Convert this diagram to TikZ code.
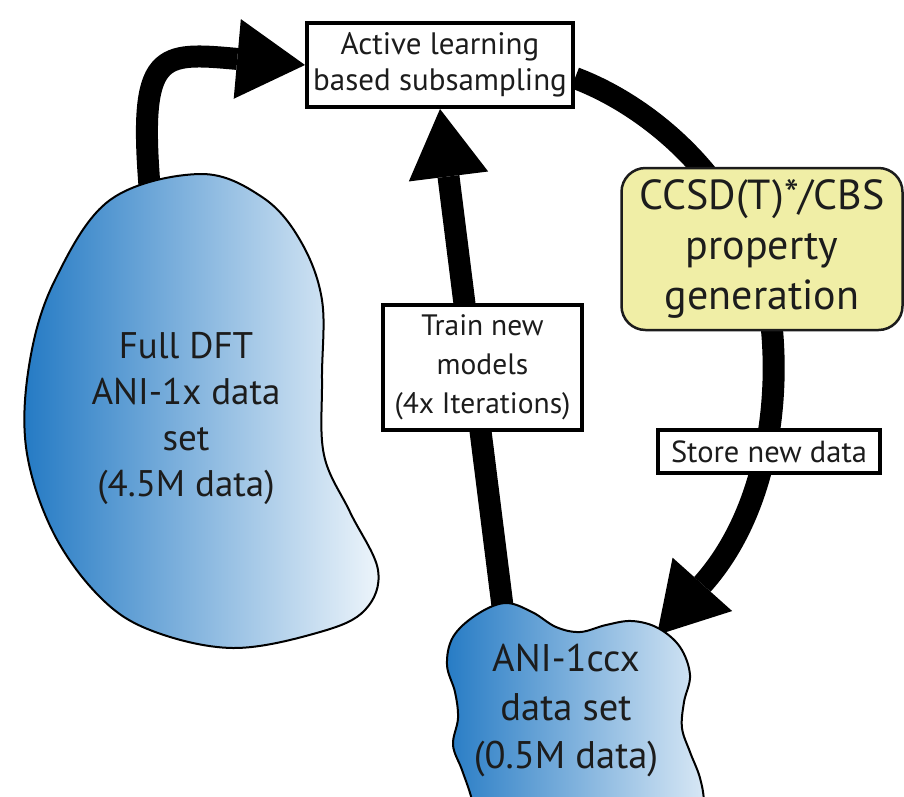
\documentclass[tikz,border=0pt]{standalone}
\usepackage{fontspec}
\setmainfont{PT Sans}
\usetikzlibrary{arrows.meta}
\pgfdeclarelayer{paper}
\pgfdeclarelayer{bg}
\pgfsetlayers{paper,bg,main}
\definecolor{blobL}{RGB}{36,122,196}
\definecolor{blobR}{RGB}{238,245,251}
\definecolor{ink}{RGB}{28,28,28}
\definecolor{ccfill}{RGB}{240,238,166}
\begin{document}
\begin{tikzpicture}[x=1pt,y=-1pt,
  box/.style={draw=black,line width=4pt,fill=white,inner sep=0pt,align=center,text=ink},
  ccbox/.style={draw=ink,line width=2.5pt,fill=ccfill,rounded corners=24pt,inner sep=0pt,align=center,text=ink},
  flow/.style={line width=22pt,line join=round,-{Triangle[length=68pt,width=80pt,line width=0pt]}},
  blob/.style={draw=black,line width=2pt,left color=blobL,right color=blobR},
  bloblabel/.style={align=center,text=ink,inner sep=0pt}]
\useasboundingbox (0,0) rectangle (904,796);
\begin{pgfonlayer}{paper}
\fill[white] (0,0) rectangle (904,796);
\end{pgfonlayer}

% data sets
\draw[blob] plot[smooth cycle,tension=0.6] coordinates {
  (200,174) (262,197) (300,240) (322,300) (322,380) (324,455) (350,512)
  (378,570) (365,610) (320,632) (233,648) (150,630) (98,595) (52,530)
  (26,447) (30,360) (55,280) (110,200)};
\begin{scope}
\clip (0,0) rectangle (904,796);
\draw[blob] plot[smooth cycle,tension=0.6] coordinates {
  (505,603) (532,612) (556,627) (580,632) (606,625) (632,621) (658,628)
  (680,647) (690,675) (684,702) (682,728) (690,752) (700,778) (704,805)
  (700,840) (480,840) (472,800) (462,770) (453,745) (458,718) (455,692)
  (447,665) (453,637) (476,615)};
\end{scope}
\node[bloblabel,font=\fontsize{37}{46}\selectfont] (full) at (186,418)
  {Full DFT\\ANI-1x data\\set\\(4.5M data)};
\node[bloblabel,font=\fontsize{38.5}{48.5}\selectfont] (ccx) at (566,711)
  {ANI-1ccx\\data set\\(0.5M data)};
\coordinate (fulltop) at (150,192);
\coordinate (ccxtop) at (503,610);
\coordinate (ccxne) at (657,635);

% process steps
\node[box,minimum width=266pt,minimum height=84pt,font=\fontsize{31}{36}\selectfont] (sub) at (440,65)
  {Active learning\\based subsampling};
\node[box,minimum width=199pt,minimum height=125pt,font=\fontsize{29.5}{39}\selectfont] (train) at (482.5,367.5)
  {Train new\\models\\(4x Iterations)};
\node[ccbox,minimum width=281pt,minimum height=162pt,font=\fontsize{42}{50}\selectfont] (cc) at (762,249)
  {CCSD(T)*/CBS\\property\\generation};
\node[box,minimum width=222pt,minimum height=43pt,font=\fontsize{30.5}{34}\selectfont] (store) at (769,451.5)
  {Store new data};

% cycle arrows
\begin{pgfonlayer}{bg}
\draw[flow] (fulltop) .. controls (138,50) and (160,52) .. (sub.west);
\draw[flow] (ccxtop) -- (sub.south);
\draw[flow] ([yshift=-13pt]sub.east) .. controls (660,110) and (760,200) .. (772,330)
  .. controls (780,420) and (760,520) .. (ccxne);
\end{pgfonlayer}
\end{tikzpicture}
\end{document}
